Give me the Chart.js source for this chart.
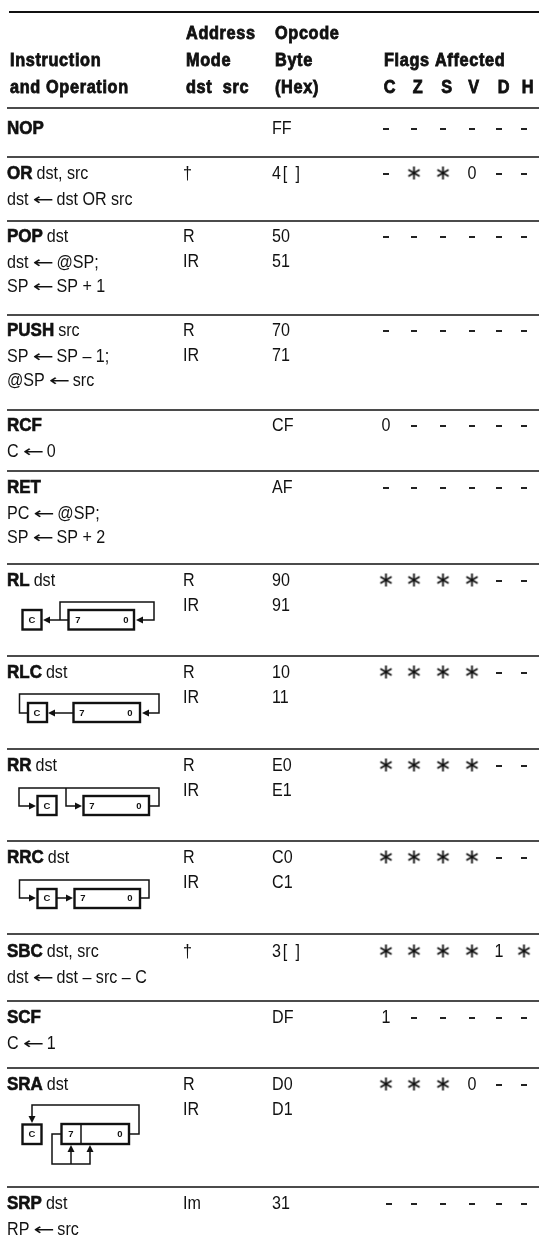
<!DOCTYPE html>
<html><head><meta charset="utf-8">
<style>html,body{margin:0;padding:0;background:#fff}canvas{display:block}</style>
<script src="https://cdn.jsdelivr.net/npm/chart.js@4"></script>
</head><body><canvas id="c" width="539" height="1244"></canvas>
<script>
const instructions=["NOP","OR","POP","PUSH","RCF","RET","RL","RLC","RR","RRC","SBC","SCF","SRA","SRP"];
const operands=["","dst, src","dst","src","","","dst","dst","dst","dst","dst, src","","dst","dst"];
const operations=[[],["dst ← dst OR src"],["dst ← @SP;","SP ← SP + 1"],["SP ← SP – 1;","@SP ← src"],["C ← 0"],["PC ← @SP;","SP ← SP + 2"],[],[],[],[],["dst ← dst – src – C"],["C ← 1"],[],["RP ← src"]];
const modes=[[],["†"],["R","IR"],["R","IR"],[],[],["R","IR"],["R","IR"],["R","IR"],["R","IR"],["†"],[],["R","IR"],["Im"]];
const opcodes=[["FF"],["4[ ]"],["50","51"],["70","71"],["CF"],["AF"],["90","91"],["10","11"],["E0","E1"],["C0","C1"],["3[ ]"],["DF"],["D0","D1"],["31"]];
const flagC=["-","-","-","-","0","-","*","*","*","*","*","1","*","-"];
const flagZ=["-","*","-","-","-","-","*","*","*","*","*","-","*","-"];
const flagS=["-","*","-","-","-","-","*","*","*","*","*","-","*","-"];
const flagV=["-","0","-","-","-","-","*","*","*","*","*","-","0","-"];
const flagD=["-","-","-","-","-","-","-","-","-","-","1","-","-","-"];
const flagH=["-","-","-","-","-","-","-","-","-","-","*","-","-","-"];
const flagNames=["C","Z","S","V","D","H"];
const flagRows=[flagC,flagZ,flagS,flagV,flagD,flagH];
const ruleRows=[12,108,157,221,315,410,471,564,656,749,841,934,1001,1068,1187];
const baselines=[134,179,242,336,431,493,586,678,771,863,957,1023,1090,1209];

// layout
const LINE=25, FONT='"Liberation Sans"';
const flagX=[386,414,443,472,499,524];
const colInstr=7,colMode=183,colOp=272;

function starImage(){const s=15,c=document.createElement('canvas');c.width=c.height=s;const g=c.getContext('2d');
  g.strokeStyle='#111';g.lineWidth=1.8;g.translate(s/2,s/2);
  for(let a=0;a<3;a++){g.save();g.rotate(a*Math.PI/3);g.beginPath();g.moveTo(0,-6.5);g.lineTo(0,6.5);g.stroke();g.restore();}
  return c;}
const star=starImage();

const dashPts=[],starPts=[];
flagRows.forEach((col,ci)=>col.forEach((v,ri)=>{
  const y=baselines[ri]-5,x=flagX[ci]+(ri===13&&ci===0?3:0);
  if(v==='-')dashPts.push({x,y});
  if(v==='*')starPts.push({x,y:y-1});
}));
const rulePts=[];
ruleRows.slice(1).forEach(y=>{rulePts.push({x:7,y},{x:539,y},{x:NaN,y:NaN});});

const tablePlugin={id:'table',afterDatasetsDraw(chart){
  const g=chart.ctx,X=v=>chart.scales.x.getPixelForValue(v),Y=v=>chart.scales.y.getPixelForValue(v);
  g.save();g.fillStyle='#111';g.textBaseline='alphabetic';
  const T=(t,x,y,o={})=>{const sx=o.sx||0.92;g.save();g.font=(o.bold?'bold ':'')+(o.size||17.5)+'px '+(o.family||FONT);g.textAlign=o.align||'left';
    g.letterSpacing=(o.ls||0)+'px';
    g.translate(X(x),Y(y));g.scale(sx,o.sy||1);
    g.fillText(t,0,0);
    if(o.heavy){g.lineWidth=o.heavy;g.strokeStyle='#111';g.strokeText(t,0,0);}
    const w=g.measureText(t).width*sx;g.restore();return w;};
  const H={bold:true,heavy:.8,size:17.5,sx:.93,ls:.7};
  T("Instruction",10,66,H);T("and Operation",10,93,H);
  T("Address",186,39,H);T("Mode",186,66,H);T("dst  src",186,93,H);
  T("Opcode",275,39,H);T("Byte",275,66,H);T("(Hex)",275,93,H);
  T("Flags Affected",384,66,H);
  const hx=[390,418,447,474,504,528];
  flagNames.forEach((n,i)=>T(n,hx[i],93,{...H,align:'center'}));
  const opLine=(l,x,y)=>{const p=l.split(' ← ');let cx=x+T(p[0],x,y)+4;
    T('←',cx,y,{family:'"DejaVu Sans"',size:24,sx:1.05,sy:.68});cx+=24;T(p[1],cx,y);};
  instructions.forEach((ins,i)=>{
    const b=baselines[i];
    const w=T(ins,colInstr,b,{bold:true,heavy:.6,sx:.97});
    if(operands[i])T(operands[i],colInstr+w+4,b,{});
    operations[i].forEach((l,k)=>opLine(l,colInstr,b+LINE*(k+1)+(k===0?1:0)));
    modes[i].forEach((l,k)=>T(l,colMode,b+LINE*k,{}));
    opcodes[i].forEach((l,k)=>T(l,colOp,b+LINE*k,{ls:l.includes('[')?2:0}));
    flagRows.forEach((col,c)=>{const v=col[i];if(v==='0'||v==='1')T(v,flagX[c],b,{align:'center'});});
  });
  // shift-register diagrams
  const box=(x0,y0,x1,y1)=>{g.lineWidth=2.4;g.strokeStyle='#111';g.strokeRect(X(x0),Y(y0),X(x1)-X(x0),Y(y1)-Y(y0));};
  const path=(p)=>{g.lineWidth=1.5;g.strokeStyle='#111';g.beginPath();p.forEach((q,i)=>i?g.lineTo(X(q[0]),Y(q[1])):g.moveTo(X(q[0]),Y(q[1])));g.stroke();};
  const arrow=(x,y,dir)=>{const L=7,W=3.5,d={l:[-1,0],r:[1,0],u:[0,-1],d:[0,1]}[dir];g.beginPath();
    g.moveTo(X(x),Y(y));g.lineTo(X(x-d[0]*L-d[1]*W),Y(y-d[1]*L-d[0]*W));g.lineTo(X(x-d[0]*L+d[1]*W),Y(y-d[1]*L+d[0]*W));g.closePath();g.fillStyle='#111';g.fill();};
  const lab=(t,x,y)=>{g.font='bold 9.5px '+FONT;g.textAlign='center';g.letterSpacing='0px';g.textBaseline='middle';g.fillText(t,X(x),Y(y));g.textBaseline='alphabetic';};
  // RL
  box(22.5,610,41.5,629.5);box(68.5,610,134,629.5);lab("C",32,620);lab("7",78,620);lab("0",126,620);
  path([[68,620],[46,620]]);arrow(43,620,'l');path([[60,620],[60,602],[154,602],[154,620],[139,620]]);arrow(136,620,'l');
  // RLC
  box(28,703,47,722);box(73.5,703,140,722);lab("C",37,713);lab("7",82,713);lab("0",130,713);
  path([[73,713],[51,713]]);arrow(48,713,'l');path([[27,713],[19.5,713],[19.5,694],[159,694],[159,713],[145,713]]);arrow(142,713,'l');
  // RR
  box(37.5,796,56.5,815);box(83.5,796,149,815);lab("C",47,806);lab("7",92,806);lab("0",139,806);
  path([[149,806],[159,806],[159,788],[19,788],[19,806],[32,806]]);arrow(36,806,'r');
  path([[66,788],[66,806],[78,806]]);arrow(82,806,'r');
  // RRC
  box(37.5,889,56.5,908);box(74.5,889,140,908);lab("C",47,898.5);lab("7",83,898.5);lab("0",130,898.5);
  path([[57,898],[69,898]]);arrow(73,898,'r');path([[140,898],[149,898],[149,880],[19.5,880],[19.5,898],[32,898]]);arrow(36,898,'r');
  // SRA
  box(22.5,1124.5,41.5,1144);box(61.5,1124,129,1144);path([[81,1124],[81,1144]]);lab("C",32,1134);lab("7",71,1134);lab("0",120,1134);
  path([[129,1134],[139,1134],[139,1105],[32,1105],[32,1117]]);arrow(32,1123,'d');
  path([[61,1134],[52,1134],[52,1164],[90,1164],[90,1152]]);path([[71,1164],[71,1152]]);arrow(71,1145,'u');arrow(90,1145,'u');
  g.restore();
}};

new Chart(document.getElementById('c'),{
  type:'scatter',
  data:{datasets:[
    {label:'top rule',data:[{x:9,y:ruleRows[0]},{x:539,y:ruleRows[0]}],showLine:true,borderColor:'#111',borderWidth:2.2,pointRadius:0},
    {label:'rules',data:rulePts,showLine:true,spanGaps:false,borderColor:'#111',borderWidth:1.6,pointRadius:0},
    {label:'unaffected',data:dashPts,pointStyle:'line',pointRadius:3,borderColor:'#222',borderWidth:2,backgroundColor:'#222'},
    {label:'affected',data:starPts,pointStyle:star,pointRadius:7}
  ]},
  options:{responsive:false,animation:false,events:[],
    layout:{padding:0,autoPadding:false},
    plugins:{legend:{display:false},tooltip:{enabled:false}},
    scales:{x:{type:'linear',min:0,max:539,display:false},y:{type:'linear',min:0,max:1244,reverse:true,display:false}}
  },
  plugins:[tablePlugin]
});
</script></body></html>
